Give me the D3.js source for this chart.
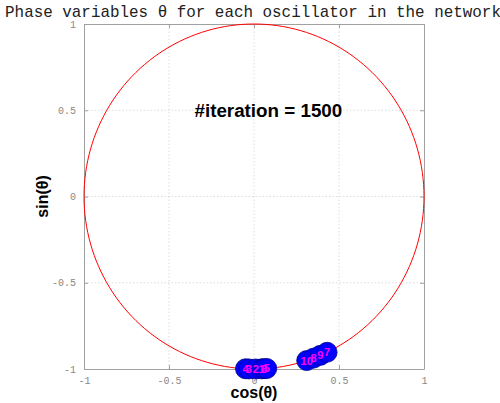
<!DOCTYPE html>
<html><head><meta charset="utf-8">
<script src="https://cdn.jsdelivr.net/npm/d3@7"></script>
<style>body{margin:0;background:#fff}svg{display:block}</style>
</head><body>
<svg id="c" width="500" height="403"></svg>
<script>
const ticks = [-1, -0.5, 0, 0.5, 1];
const tickLabels = ["-1", "-0.5", "0", "0.5", "1"];
const oscIds = [4, 3, 2, 1, 6, 5, 10, 8, 9, 7];
const oscCos = [-0.05, -0.03, 0.01, 0.045, 0.06, 0.075, 0.31, 0.35, 0.39, 0.43];
const oscSin = [-0.9987, -0.9995, -0.9999, -0.999, -0.998, -0.997, -0.951, -0.937, -0.921, -0.903];
const circleAngles = d3.range(0, 361, 2);

const svg = d3.select("#c");
const x = d3.scaleLinear().domain([-1, 1]).range([84, 424]);
const y = d3.scaleLinear().domain([-1, 1]).range([369, 24]);

// grid
const g = svg.append("g");
ticks.slice(1, -1).forEach(t => {
  g.append("line").attr("x1", x(t)).attr("x2", x(t)).attr("y1", y(-1)).attr("y2", y(1))
    .attr("stroke", "#d0d0d0").attr("stroke-width", 0.7).attr("stroke-dasharray", "1.5,2");
  g.append("line").attr("y1", y(t)).attr("y2", y(t)).attr("x1", x(-1)).attr("x2", x(1))
    .attr("stroke", "#d0d0d0").attr("stroke-width", 0.7).attr("stroke-dasharray", "1.5,2");
});

// frame with axes
const fmt = d => tickLabels[ticks.indexOf(d)];
const axB = svg.append("g").attr("transform", `translate(0,${y(-1)})`)
  .call(d3.axisBottom(x).tickValues(ticks).tickFormat(fmt).tickSizeInner(-4).tickSizeOuter(0).tickPadding(8));
const axT = svg.append("g").attr("transform", `translate(0,${y(1)})`)
  .call(d3.axisTop(x).tickValues(ticks).tickFormat("").tickSizeInner(-4).tickSizeOuter(0));
const axL = svg.append("g").attr("transform", `translate(${x(-1)},0)`)
  .call(d3.axisLeft(y).tickValues(ticks).tickFormat(fmt).tickSizeInner(-4).tickSizeOuter(0).tickPadding(8));
const axR = svg.append("g").attr("transform", `translate(${x(1)},0)`)
  .call(d3.axisRight(y).tickValues(ticks).tickFormat("").tickSizeInner(-4).tickSizeOuter(0));
[axB, axT, axL, axR].forEach(a => {
  a.select(".domain").attr("stroke", "#a0a0a0");
  a.selectAll(".tick line").attr("stroke", "#a0a0a0");
  a.selectAll("text").attr("fill", "#888").style("font-family", "'Liberation Mono', 'DejaVu Sans Mono', monospace").style("font-size", "10px");
});

// unit circle
const line = d3.line().x(a => x(Math.cos(a * Math.PI / 180))).y(a => y(Math.sin(a * Math.PI / 180)));
svg.append("path").datum(circleAngles).attr("d", line).attr("fill", "none").attr("stroke", "#ff0000").attr("stroke-width", 1);

// oscillators
const pts = oscIds.map((id, i) => ({id, cx: oscCos[i], cy: oscSin[i]}));
svg.append("g").selectAll("circle").data(pts).join("circle")
  .attr("cx", d => x(d.cx)).attr("cy", d => y(d.cy)).attr("r", 10)
  .attr("fill", "#0000ff").attr("stroke", "#00008b").attr("stroke-width", 0.8);
svg.append("g").selectAll("text").data(pts).join("text")
  .attr("x", d => x(d.cx)).attr("y", d => y(d.cy) + 4)
  .attr("text-anchor", "middle").attr("fill", "#ff00ff")
  .style("font-family", "'Liberation Sans', Arial, sans-serif").style("font-size", "11px").style("font-weight", "bold")
  .text(d => d.id);

// annotation
svg.append("text").attr("x", x(-0.35)).attr("y", y(0.5) + 7)
  .style("font-family", "'Liberation Sans', Arial, sans-serif").style("font-size", "18.8px").style("font-weight", "bold")
  .attr("fill", "#000").text("#iteration = 1500");

// title
svg.append("text").attr("x", 253).attr("y", 17).attr("text-anchor", "middle")
  .style("font-family", "'Liberation Mono', 'DejaVu Sans Mono', monospace").style("font-size", "15.9px")
  .attr("fill", "#222").text("Phase variables θ for each oscillator in the network");

// axis labels
svg.append("text").attr("x", 254).attr("y", 398).attr("text-anchor", "middle")
  .style("font-family", "'Liberation Sans', Arial, sans-serif").style("font-size", "16px").style("font-weight", "bold")
  .text("cos(θ)");
svg.append("text").attr("transform", `translate(48,${y(0)}) rotate(-90)`).attr("text-anchor", "middle")
  .style("font-family", "'Liberation Sans', Arial, sans-serif").style("font-size", "16px").style("font-weight", "bold")
  .text("sin(θ)");
</script>
</body></html>
